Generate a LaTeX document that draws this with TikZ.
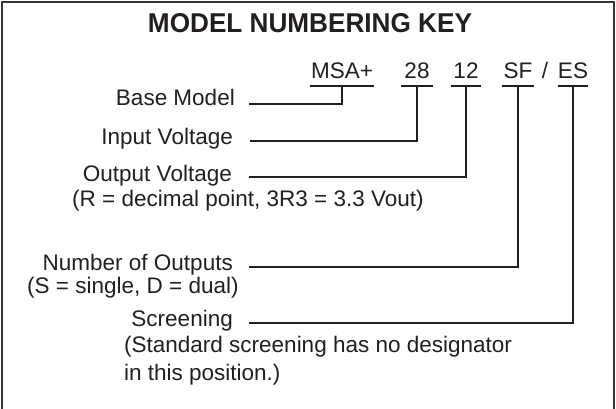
\documentclass[tikz,border=0pt]{standalone}
\usepackage{fontspec}
\setmainfont{Liberation Sans}
\usepackage{graphicx}
\definecolor{ink}{HTML}{231F20}
\definecolor{frame}{HTML}{333333}
\begin{document}
\begin{tikzpicture}[x=1pt,y=-1pt,
  txt/.style={inner sep=0pt,text=ink,font=\fontsize{22.5}{27}\selectfont},
  lbl/.style={txt,anchor=base east},
  note/.style={txt,anchor=base west},
  code/.style={txt,anchor=base},
  uline/.style={draw=ink,line width=2.4pt},
  conn/.style={draw=ink,line width=2.2pt,line join=miter}]
\useasboundingbox (0,0) rectangle (616,408);
\draw[frame,line width=1.6pt] (2,2) rectangle (614,420);
\node[txt,anchor=base] (title) at (310,32) {\resizebox{324pt}{19pt}{\bfseries MODEL NUMBERING KEY}};
% codes
\node[code,minimum width=64pt] (msa) at (342,78) {MSA+};
\node[code,minimum width=31pt] (v28) at (417,78) {28};
\node[code,minimum width=29pt] (v12) at (466,78) {12};
\node[code,minimum width=31pt] (sf) at (518,78) {SF};
\node[code] (slash) at (545,78) {/};
\node[code,minimum width=29pt] (es) at (573,78) {ES};
\foreach \n in {msa,v28,v12,sf,es}{
  \draw[uline] ([yshift=-8pt]\n.base west) -- ([yshift=-8pt]\n.base east);
  \coordinate (\n U) at ([yshift=-8pt]\n.base);
}
% labels
\node[lbl] (base) at (235,105) {Base Model};
\node[lbl] (inv) at (233,144) {Input Voltage};
\node[lbl] (outv) at (232,181) {Output Voltage};
\node[note] (outvnote) at (72,206) {(R = decimal point, 3R3 = 3.3 Vout)};
\node[lbl] (num) at (233,270) {Number of Outputs};
\node[note] (numnote) at (27,293) {(S = single, D = dual)};
\node[lbl] (scr) at (233,326) {Screening};
\node[note] (scrnote) at (124,352) {(Standard screening has no designator};
\node[note] (scrnote2) at (124,380) {in this position.)};
% connector starts
\coordinate (baseL) at (249,104);
\coordinate (invL) at (250,141);
\coordinate (outvL) at (249,177);
\coordinate (numL) at (249,267);
\coordinate (scrL) at (249,323);
\draw[conn] (baseL) -| (msaU);
\draw[conn] (invL) -| (v28U);
\draw[conn] (outvL) -| (v12U);
\draw[conn] (numL) -| (sfU);
\draw[conn] (scrL) -| (esU);
\end{tikzpicture}
\end{document}
